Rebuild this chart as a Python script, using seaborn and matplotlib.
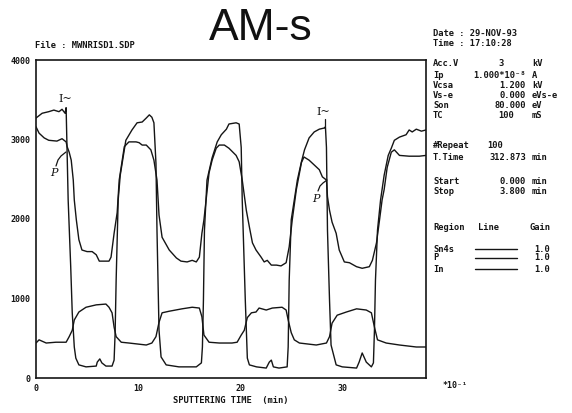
import matplotlib
matplotlib.use("Agg")
import numpy as np
import pandas as pd
import matplotlib.pyplot as plt
from matplotlib.lines import Line2D
from matplotlib.transforms import Affine2D
import seaborn as sns

# Sputtering time (x10^-1 min) and Auger intensity for each region
in_time = [0, 0.6, 1.25, 1.75, 2.25, 2.55, 2.85, 2.95, 3.15, 3.4, 3.55, 3.75, 3.9, 4.2,
           4.9, 5.9, 6.0, 6.25, 6.45, 6.85, 7.45, 7.65, 7.75, 7.85, 8.05, 8.25, 8.65, 8.8,
           9.4, 9.9, 10.4, 10.8, 11.1, 11.35, 11.55, 11.75, 11.85, 12.05, 12.25, 12.75,
           14.0, 15.7, 16.2, 16.3, 16.4, 16.5, 16.75, 17.25, 17.75, 18.15, 18.65, 18.9,
           19.6, 19.9, 20.1, 20.2, 20.5, 20.7, 20.9, 21.6, 22.55, 22.85, 23.05, 23.25,
           23.8, 24.6, 24.7, 24.8, 25.0, 25.3, 25.6, 26.0, 26.3, 26.75, 27.25, 27.75,
           28.25, 28.35, 28.45, 28.55, 28.75, 28.9, 29.4, 30.0, 31.4, 31.65, 31.95, 32.35,
           32.85, 33.05, 33.15, 33.25, 33.45, 33.75, 34.1, 34.5, 34.8, 35.1, 35.6, 36.25,
           36.55, 36.85, 37.25, 37.75, 38.2]
in_counts = [3270, 3330, 3350, 3370, 3350, 3380, 3330, 3400, 2240, 1400, 820, 390, 250, 165,
             140, 150, 200, 240, 190, 150, 150, 225, 565, 1230, 2240, 2550, 2870, 2990,
             3120, 3210, 3220, 3270, 3310, 3280, 3210, 2700, 1860, 600, 265, 165,
             140, 140, 190, 390, 980, 1860, 2490, 2770, 2970, 3060, 3130, 3195,
             3210, 3195, 2900, 2240, 980, 250, 165, 140, 125, 200, 225, 140,
             125, 140, 390, 1230, 1990, 2240, 2490, 2720, 2870, 3020, 3095, 3130,
             3145, 3160, 2900, 1860, 980, 415, 165, 140, 125, 200, 315, 200,
             140, 190, 600, 1230, 1860, 2240, 2550, 2800, 2890, 2990, 3030, 3060,
             3120, 3095, 3130, 3105, 3120]

p_time = [0, 0.3, 0.8, 1.25, 2.05, 2.55, 2.95, 3.05, 3.25, 3.45, 3.65, 3.75, 3.95, 4.2,
          4.5, 5.0, 5.5, 5.9, 6.2, 6.65, 7.15, 7.35, 7.65, 7.95, 8.15, 8.65, 9.1, 9.8,
          10.1, 10.4, 10.8, 11.25, 11.55, 11.85, 12.05, 12.35, 13.05, 13.75, 14.2, 14.8,
          15.3, 15.7, 16.0, 16.25, 16.45, 16.95, 17.25, 17.65, 17.95, 18.45, 18.9, 19.6,
          19.9, 20.2, 20.6, 20.9, 21.2, 21.55, 22.05, 22.35, 22.65, 23.05, 23.55, 24.0,
          24.5, 24.8, 25.1, 25.5, 26.0, 26.25, 26.75, 27.25, 27.75, 28.05, 28.45, 28.55,
          28.75, 29.0, 29.4, 29.7, 30.2, 30.7, 31.4, 31.95, 32.65, 32.95, 33.35, 33.65,
          33.9, 34.1, 34.4, 34.8, 35.1, 35.6, 36.55, 37.55, 38.2]
p_counts = [3160, 3080, 3020, 2990, 2980, 3010, 2970, 2910, 2840, 2740, 2490, 2240, 1990, 1740,
            1610, 1590, 1590, 1550, 1470, 1470, 1470, 1520, 1820, 2080, 2490, 2910, 2970, 2970,
            2960, 2930, 2930, 2870, 2740, 2490, 2050, 1770, 1610, 1510, 1470, 1460,
            1480, 1460, 1520, 1820, 1990, 2580, 2740, 2890, 2930, 2930, 2890, 2800,
            2720, 2490, 2110, 1900, 1700, 1610, 1520, 1460, 1480, 1420, 1420, 1410,
            1450, 1650, 1990, 2370, 2710, 2780, 2740, 2680, 2620, 2530, 2490, 2280,
            2110, 1960, 1820, 1610, 1460, 1450, 1400, 1380, 1400, 1480, 1700, 1990,
            2240, 2370, 2650, 2840, 2870, 2800, 2790, 2790, 2800]

sn_time = [0, 0.3, 1.0, 1.95, 2.95, 3.25, 3.55, 3.75, 4.2, 4.9, 5.9, 6.85, 7.15, 7.45,
           7.65, 7.85, 8.35, 9.1, 10.8, 11.35, 11.75, 12.05, 12.35, 13.05, 14.3, 15.3,
           16.0, 16.25, 16.45, 16.95, 17.95, 19.2, 19.7, 20.1, 20.4, 20.7, 21.1, 21.55,
           21.85, 22.55, 23.15, 24.1, 24.5, 24.7, 25.0, 25.3, 25.8, 27.45, 28.45, 28.75,
           29.0, 29.5, 30.4, 31.4, 32.35, 32.85, 33.15, 33.45, 34.3, 35.6, 37.25, 38.2]
sn_counts = [440, 480, 440, 450, 450, 520, 600, 730, 830, 890, 920, 930, 890, 820,
             640, 520, 450, 440, 415, 440, 520, 700, 820, 840, 870, 890,
             880, 770, 540, 450, 440, 440, 450, 540, 600, 760, 820, 830,
             880, 855, 880, 890, 855, 730, 570, 480, 440, 415, 440, 520,
             690, 790, 830, 870, 855, 820, 640, 480, 440, 415, 390, 390]

regions = ["Sn4s", "P", "In"]
gains = ["1.0", "1.0", "1.0"]
x_ticks = [0, 10, 20, 30]
y_ticks = [0, 1000, 2000, 3000, 4000]

df = pd.concat([
    pd.DataFrame({"time": sn_time, "counts": sn_counts, "region": "Sn4s"}),
    pd.DataFrame({"time": p_time, "counts": p_counts, "region": "P"}),
    pd.DataFrame({"time": in_time, "counts": in_counts, "region": "In"}),
], ignore_index=True)

sns.set_style("white")
plt.rcParams["font.family"] = ["DejaVu Sans Mono", "DejaVu Sans"]

W, H = 572, 413
fig = plt.figure(figsize=(W / 100, H / 100), dpi=100)
px = Affine2D().scale(1 / W, -1 / H).translate(0, 1) + fig.transFigure

ax_l, ax_r, ax_t, ax_b = 36, 426, 60, 378
ax = fig.add_axes([ax_l / W, 1 - ax_b / H, (ax_r - ax_l) / W, (ax_b - ax_t) / H])

ink = "#151515"
sns.lineplot(data=df, x="time", y="counts", units="region", estimator=None,
             sort=False, color=ink, lw=1.0, ax=ax, legend=False)

ax.set_xlim(0, 38.2)
ax.set_ylim(0, 4000)
ax.set_xticks(x_ticks)
ax.set_yticks(y_ticks)
ax.set_xticks(np.arange(0, 38, 2), minor=True)
ax.set_yticks(np.arange(0, 4000, 250), minor=True)
ax.tick_params(which="major", direction="in", length=3, width=1, colors=ink,
               labelsize=6, pad=4)
ax.tick_params(which="minor", direction="in", length=1.5, width=0.8, colors=ink)
for lab in ax.get_xticklabels() + ax.get_yticklabels():
    lab.set_fontweight("bold")
ax.set_xlabel("")
ax.set_ylabel("")
for sp in ax.spines.values():
    sp.set_visible(True)
    sp.set_color(ink)
    sp.set_linewidth(1.2)

def put(x, y, s, size=6.3, ha="left", **kw):
    fig.text(x, y, s, transform=px, fontsize=size, ha=ha, va="center",
             fontweight="bold", color=ink, **kw)

# title and header
fig.text(261, 28, "AM-s", transform=px, fontsize=32, ha="center", va="center",
         family=["Liberation Sans", "DejaVu Sans"], fontweight="normal",
         color="#111111")
put(35, 45, "File : MWNRISD1.SDP")
put(433, 34, "Date : 29-NOV-93")
put(433, 43, "Time : 17:10:28")

# x axis captions
put(231, 400, "SPUTTERING TIME  (min)", size=6.3, ha="center")
put(443, 385, "*10⁻¹", size=6)

# acquisition parameters (values right-aligned before the unit column)
params = [
    ("Acc.V", "3", "kV", 64),
    ("Ip", "1.000*10⁻⁸", "A", 75),
    ("Vcsa", "1.200", "kV", 86),
    ("Vs-e", "0.000", "eVs-e", 96),
    ("Son", "80.000", "eV", 106),
    ("TC", "100", "mS", 116),
]
for name, val, unit, y in params:
    put(433, y, name)
    if val in ("3", "100"):
        put(498, y, val)
    else:
        put(526, y, val, ha="right")
    put(532, y, unit)

put(433, 146, "#Repeat")
put(487, 146, "100")
put(433, 157, "T.Time")
put(526, 157, "312.873", ha="right")
put(532, 157, "min")
put(433, 181, "Start")
put(526, 181, "0.000", ha="right")
put(532, 181, "min")
put(433, 191, "Stop")
put(526, 191, "3.800", ha="right")
put(532, 191, "min")

# region / line / gain table
put(433, 227, "Region")
put(478, 227, "Line")
put(530, 227, "Gain")
for (name, gain, y) in zip(regions, gains, [249, 258, 269]):
    put(433, y, name)
    put(534, y, gain)
    fig.add_artist(Line2D([475, 517], [y, y], transform=px, color=ink, lw=1.0))

# hand-written curve labels
hand = ["DejaVu Serif"]
fig.text(65, 99, "I~", transform=px, fontsize=8, ha="center", va="center",
         family=hand, color=ink)
fig.text(323, 112, "I~", transform=px, fontsize=8, ha="center", va="center",
         family=hand, color=ink)
fig.add_artist(Line2D([325, 325], [119, 126], transform=px, color=ink, lw=0.9))
fig.text(54, 173, "P", transform=px, fontsize=8, ha="center", va="center",
         family=hand, style="italic", color=ink)
fig.add_artist(Line2D([56, 58, 61, 66], [166, 160, 156, 152], transform=px,
                      color=ink, lw=0.9))
fig.text(316, 199, "P", transform=px, fontsize=8, ha="center", va="center",
         family=hand, style="italic", color=ink)
fig.add_artist(Line2D([318, 320, 323, 327], [191, 186, 183, 180], transform=px,
                      color=ink, lw=0.9))

fig.savefig("out.png", dpi=100, facecolor="white")
